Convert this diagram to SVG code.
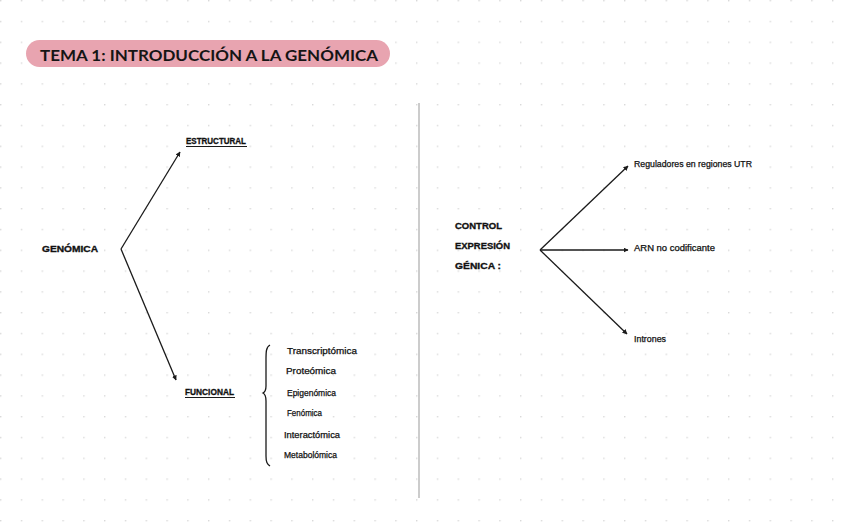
<svg xmlns="http://www.w3.org/2000/svg" width="848" height="530" viewBox="0 0 848 530">
<defs>
<pattern id="dots" x="0" y="0" width="20.8" height="20.8" patternUnits="userSpaceOnUse">
<rect x="0" y="0" width="1.4" height="1.4" fill="#d9d9d9"/>
</pattern>
<marker id="ah" viewBox="0 0 10 10" refX="9" refY="5" markerWidth="5" markerHeight="5" orient="auto" markerUnits="userSpaceOnUse">
<path d="M0,0 L10,5 L0,10 z" fill="#1a1a1a"/>
</marker>
<style>
.cap{font-family:"Liberation Sans",Arial,sans-serif;font-weight:bold;font-size:8.5px;fill:#111;stroke:#111;stroke-width:0.3}
.hw{font-family:"Liberation Sans",Arial,sans-serif;font-size:8.5px;fill:#111;stroke:#111;stroke-width:0.25}
.ln{stroke:#1a1a1a;stroke-width:1.3;fill:none}
.ul{stroke:#1a1a1a;stroke-width:1.2}
</style>
</defs>
<rect width="848" height="530" fill="#ffffff"/>
<rect x="-0.7" y="-0.7" width="850" height="532" fill="url(#dots)"/>
<line x1="419" y1="103" x2="419" y2="498" stroke="#cccccc" stroke-width="2"/>

<g id="title">
<rect x="26" y="40" width="364" height="27" rx="13.5" fill="#e8a4b0"/>
<text x="40" y="61" font-family="Lato,'Open Sans',sans-serif" font-weight="bold" font-size="15.5" fill="#151515" textLength="338" lengthAdjust="spacingAndGlyphs">TEMA 1: INTRODUCCIÓN A LA GENÓMICA</text>
</g>

<g id="connectors">
<path class="ln" d="M121,249 L180,152" marker-end="url(#ah)"/>
<path class="ln" d="M121,249 L176,380" marker-end="url(#ah)"/>
<path class="ln" d="M540,250 L628,166" marker-end="url(#ah)"/>
<path class="ln" d="M540,250 L628,250" marker-end="url(#ah)"/>
<path class="ln" d="M540,250 L627,334" marker-end="url(#ah)"/>
<path class="ln" d="M270,345 C266,347 266,352 266,360 L266,386 C266,390 265,392 263,393 C265,394 266,396 266,401 L266,456 C266,462 267,464 270,466"/>
</g>

<g id="genomica"><text class="cap" x="42" y="252" textLength="56" lengthAdjust="spacingAndGlyphs">GENÓMICA</text></g>
<g id="estructural">
<text class="cap" x="186" y="144" font-size="7.5" textLength="60" lengthAdjust="spacingAndGlyphs">ESTRUCTURAL</text>
<line class="ul" x1="186" y1="146.5" x2="247" y2="146.5"/>
</g>
<g id="funcional">
<text class="cap" x="185" y="395" font-size="7.5" textLength="49" lengthAdjust="spacingAndGlyphs">FUNCIONAL</text>
<line class="ul" x1="185" y1="397.5" x2="235" y2="397.5"/>
</g>
<g id="funcional-list">
<text class="hw" x="287" y="354" textLength="70" lengthAdjust="spacingAndGlyphs">Transcriptómica</text>
<text class="hw" x="286" y="374" textLength="50" lengthAdjust="spacingAndGlyphs">Proteómica</text>
<text class="hw" x="287" y="396" textLength="49" lengthAdjust="spacingAndGlyphs">Epigenómica</text>
<text class="hw" x="287" y="416" textLength="35" lengthAdjust="spacingAndGlyphs">Fenómica</text>
<text class="hw" x="284" y="438" textLength="56" lengthAdjust="spacingAndGlyphs">Interactómica</text>
<text class="hw" x="284" y="458" textLength="53" lengthAdjust="spacingAndGlyphs">Metabolómica</text>
</g>
<g id="control">
<text class="cap" x="455" y="229" textLength="47" lengthAdjust="spacingAndGlyphs">CONTROL</text>
<text class="cap" x="455" y="249" textLength="55" lengthAdjust="spacingAndGlyphs">EXPRESIÓN</text>
<text class="cap" x="455" y="269" textLength="46" lengthAdjust="spacingAndGlyphs">GÉNICA :</text>
</g>
<g id="utr"><text class="hw" x="634" y="167" textLength="118" lengthAdjust="spacingAndGlyphs">Reguladores en regiones UTR</text></g>
<g id="arn"><text class="hw" x="634" y="251" textLength="81" lengthAdjust="spacingAndGlyphs">ARN no codificante</text></g>
<g id="intrones"><text class="hw" x="634" y="342" textLength="32" lengthAdjust="spacingAndGlyphs">Intrones</text></g>
</svg>
